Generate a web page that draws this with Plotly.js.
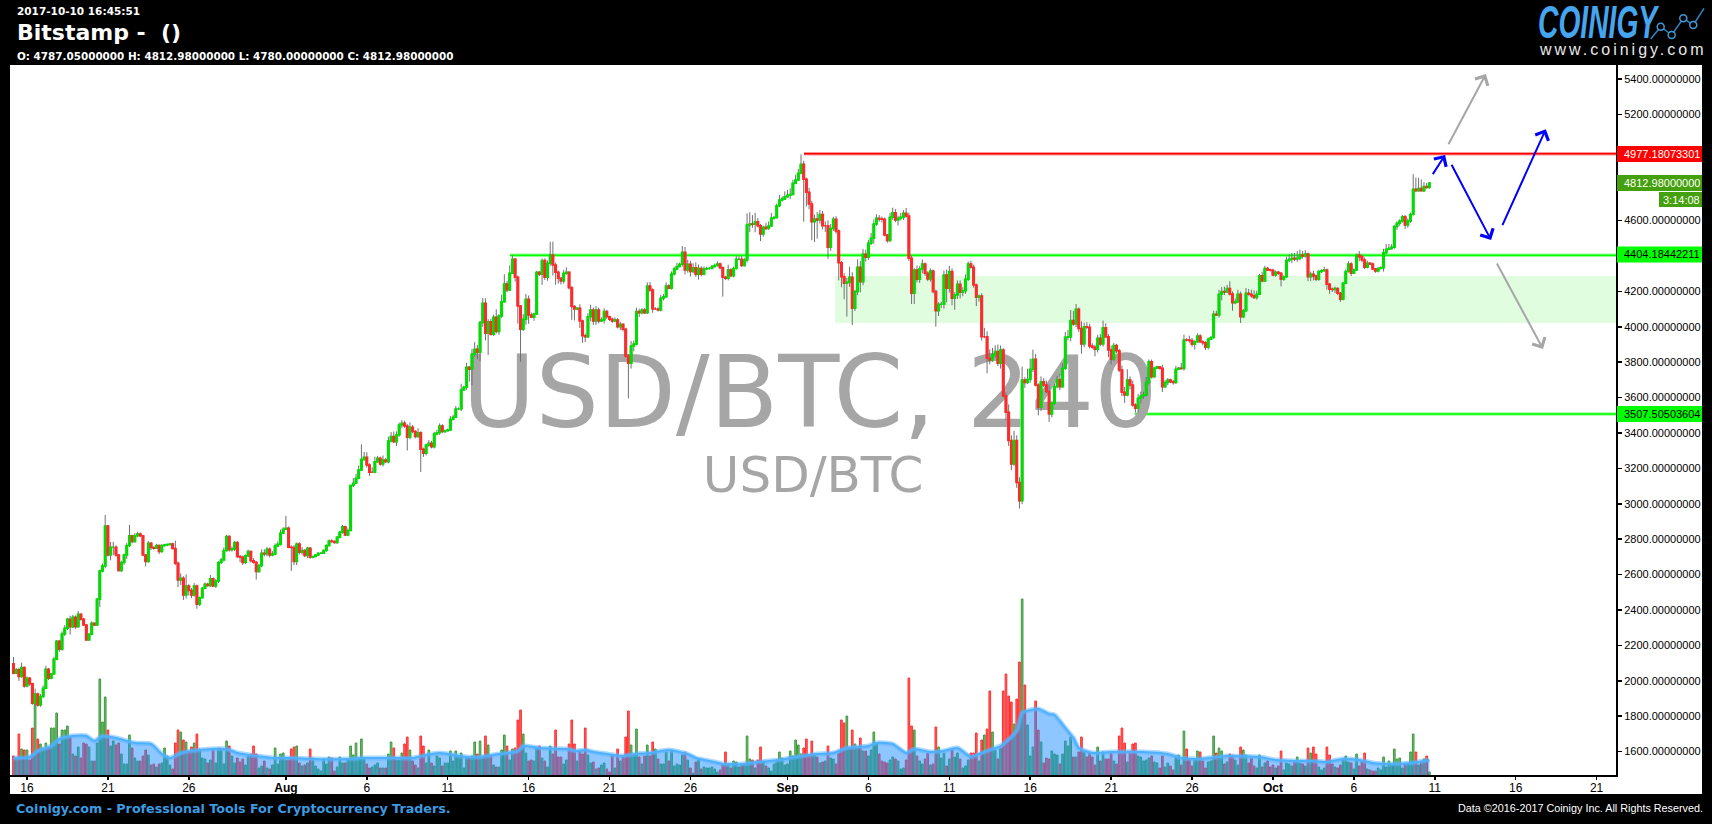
<!DOCTYPE html>
<html><head><meta charset="utf-8">
<style>html,body{margin:0;padding:0;background:#000;overflow:hidden}#chart{width:1712px;height:824px}</style>
<script src="https://cdn.plot.ly/plotly-3.0.1.min.js"></script>
</head><body><div id="chart"></div>
<script>
const firstOpen = 2096;
const closes = [
2043,2062,2024,2075,1971,2015,1983,1873,1926,1864,
1911,1958,2065,2015,2039,2122,2224,2178,2265,2297,
2348,2306,2359,2306,2376,2348,2316,2231,2263,2325,
2316,2461,2621,2649,2875,2711,2755,2755,2711,2623,
2668,2711,2764,2819,2787,2819,2830,2819,2711,2674,
2777,2753,2749,2764,2730,2764,2768,2770,2773,2747,
2664,2570,2579,2485,2536,2510,2485,2536,2433,2470,
2523,2546,2538,2576,2536,2564,2668,2683,2736,2815,
2740,2745,2781,2702,2698,2668,2706,2730,2679,2670,
2617,2651,2721,2717,2743,2711,2717,2762,2772,2834,
2856,2862,2755,2753,2674,2773,2726,2736,2708,2749,
2698,2702,2711,2721,2721,2736,2764,2790,2787,2781,
2811,2839,2871,2824,2849,3103,3116,3144,3191,3251,
3263,3219,3178,3178,3238,3257,3225,3248,3238,3355,
3380,3351,3389,3445,3455,3440,3376,3432,3408,3380,
3402,3308,3285,3332,3342,3323,3395,3402,3440,3408,
3413,3417,3477,3489,3536,3536,3643,3658,3771,3760,
3845,3873,3856,4025,4133,3963,4029,3958,4054,3973,
4061,4142,4242,4208,4302,4381,4280,4118,3986,4042,
4155,4067,4054,4072,4308,4297,4374,4280,4359,4406,
4349,4308,4274,4259,4302,4308,4221,4114,4101,4105,
4033,3950,3944,4057,4095,4033,4095,4033,4039,4086,
4057,4042,4033,4039,4001,4014,3986,3835,3794,3892,
3903,4086,4080,4095,4080,4231,4208,4101,4101,4095,
4161,4170,4231,4218,4298,4327,4340,4353,4421,4321,
4353,4312,4334,4297,4330,4297,4327,4330,4330,4340,
4347,4355,4334,4280,4274,4321,4289,4330,4381,4381,
4346,4378,4575,4581,4579,4594,4571,4524,4562,4556,
4570,4613,4617,4684,4716,4722,4735,4743,4747,4811,
4829,4867,4918,4833,4760,4694,4594,4609,4603,4635,
4571,4571,4449,4556,4607,4541,4362,4283,4246,4251,
4280,4105,4199,4336,4255,4410,4393,4472,4500,4581,
4613,4609,4607,4519,4487,4619,4645,4603,4613,4619,
4641,4626,4387,4189,4321,4268,4327,4355,4302,4270,
4315,4199,4091,4127,4127,4293,4218,4312,4161,4180,
4240,4195,4204,4268,4355,4336,4236,4167,4174,3944,
3944,3822,3813,3841,3860,3794,3869,3609,3517,3357,
3225,3357,3120,3018,3700,3685,3703,3760,3816,3671,
3545,3690,3671,3634,3508,3568,3662,3703,3662,3766,
3941,3943,4035,4016,4099,3991,3903,4001,3997,3892,
3884,3873,3935,3903,3995,3944,3869,3818,3894,3865,
3756,3630,3615,3700,3671,3558,3540,3596,3609,3615,
3686,3803,3718,3766,3775,3766,3662,3685,3700,3690,
3685,3760,3766,3765,3926,3925,3922,3901,3916,3948,
3916,3910,3884,3929,3939,4071,4067,4184,4199,4197,
4217,4185,4136,4142,4184,4057,4091,4189,4184,4176,
4165,4184,4289,4259,4330,4321,4320,4293,4308,4302,
4268,4283,4374,4381,4387,4383,4387,4406,4400,4411,
4283,4297,4287,4268,4312,4317,4321,4240,4212,4211,
4217,4189,4155,4246,4312,4355,4302,4321,4406,4396,
4377,4336,4359,4355,4327,4315,4330,4334,4419,4438,
4443,4449,4566,4585,4598,4622,4575,4598,4635,4777,
4769,4782,4769,4792,4787.05,4812.98];
const wickUp = [
38,10,12,28,6,10,6,6,30,8,
14,16,20,8,6,14,6,6,14,18,
8,20,14,10,18,6,8,4,6,12,
4,8,8,14,62,6,30,30,10,4,
10,8,14,62,6,16,12,8,6,4,
12,8,6,10,6,8,6,6,6,8,
45,10,28,12,65,10,14,16,8,6,
8,10,8,22,8,10,8,12,18,10,
8,14,10,8,10,10,8,12,6,14,
6,8,22,22,14,10,16,14,16,20,
12,70,10,10,14,8,10,20,8,8,
8,4,4,4,4,6,6,8,10,6,
8,8,10,6,12,6,30,25,25,85,
30,28,10,28,28,14,10,25,10,25,
25,28,20,14,18,14,10,28,14,8,
25,8,10,8,18,14,12,16,14,10,
6,8,18,14,16,8,35,10,25,8,
30,40,25,8,30,28,14,16,14,45,
10,40,55,16,45,22,8,10,4,30,
30,22,14,8,8,6,12,12,15,75,
75,14,10,6,20,28,4,10,8,6,
22,8,12,20,30,14,22,14,14,18,
10,6,10,14,10,14,4,8,10,28,
20,22,16,10,10,20,22,10,10,10,
20,15,20,10,15,10,22,10,35,30,
25,20,25,30,22,12,14,10,8,10,
10,14,8,8,8,30,10,10,20,18,
20,10,66,66,50,50,20,10,10,25,
25,30,10,12,30,15,30,30,35,20,
30,25,56,20,10,25,18,25,40,25,
20,25,30,25,15,18,10,10,20,25,
60,28,10,45,35,30,25,20,30,25,
22,18,14,10,5,25,28,20,15,25,
18,30,18,15,10,25,15,25,8,12,
15,8,10,12,15,25,30,32,18,15,
22,22,20,28,14,18,15,8,8,15,
50,30,50,40,35,40,25,10,20,45,
30,55,30,30,75,15,60,60,55,30,
10,30,20,25,40,10,15,20,30,28,
30,40,60,55,30,10,40,22,25,20,
15,14,20,25,40,25,15,25,15,10,
10,25,30,60,20,25,10,25,25,18,
30,12,12,8,5,4,20,15,10,8,
10,20,8,30,30,10,25,15,8,15,
10,8,8,10,8,20,20,25,25,28,
20,40,15,18,25,15,10,30,25,25,
30,20,10,22,15,8,8,8,10,8,
8,8,22,28,30,30,40,30,22,22,
8,15,20,8,10,8,18,8,8,10,
10,5,8,8,12,15,10,8,8,22,
12,15,14,8,8,6,6,8,22,30,
25,18,10,10,10,10,10,14,10,85,
66,60,50,25,20,0];
const wickDown = [
6,4,24,6,10,8,12,8,12,10,
10,8,6,10,6,4,6,14,8,12,
10,45,8,12,6,8,6,4,4,6,
4,6,45,8,14,8,30,45,10,6,
8,12,22,8,10,8,6,6,6,28,
6,14,8,4,14,6,6,8,6,4,
10,40,28,28,20,28,18,10,26,10,
6,6,6,8,6,10,12,8,8,6,
10,10,12,8,28,14,8,8,10,8,
45,6,10,14,14,14,8,8,6,8,
6,4,6,132,20,20,12,14,10,14,
8,6,4,4,6,4,8,6,6,6,
8,6,8,6,6,4,8,4,6,4,
8,14,20,4,6,6,10,14,4,10,
8,8,25,10,16,10,75,12,10,10,
8,128,20,12,10,10,10,8,12,8,
8,4,6,4,4,6,12,6,14,70,
90,14,40,50,25,40,122,8,10,10,
18,12,6,12,6,4,25,100,183,10,
30,50,6,20,6,10,60,15,20,15,
60,70,30,20,15,8,10,75,65,8,
40,40,30,8,25,22,22,14,6,20,
12,10,12,4,10,20,12,10,198,30,
30,8,25,10,8,8,10,22,6,8,
8,12,8,6,8,8,8,4,12,25,
15,28,10,15,30,12,6,6,8,4,
6,6,8,110,10,12,8,10,6,6,
8,6,15,40,20,45,10,40,15,8,
8,6,8,6,8,8,4,6,20,4,
6,6,6,239,80,30,105,115,105,20,
20,35,65,20,15,15,100,60,90,188,
25,95,15,20,60,20,25,15,10,30,
10,15,18,8,12,8,15,12,30,12,
15,10,15,60,60,18,20,25,15,12,
15,10,90,30,22,25,80,25,40,65,
22,35,22,18,10,8,15,50,25,22,
8,85,25,10,15,15,30,8,45,30,
35,10,30,45,20,30,8,20,15,8,
45,20,12,10,45,20,10,8,20,5,
10,15,25,10,18,20,55,18,10,14,
8,40,18,12,15,8,40,30,12,15,
12,22,45,8,25,10,25,25,30,15,
8,12,10,5,4,8,30,8,15,8,
12,8,5,8,12,8,12,14,30,6,
8,15,15,12,6,5,5,15,35,18,
6,8,45,8,8,35,8,8,8,12,
8,12,5,8,5,6,8,8,10,8,
40,8,8,8,20,12,15,12,14,10,
25,25,25,10,8,8,6,30,25,15,
20,10,14,6,6,6,15,4,6,25,
12,10,6,6,5,10,8,5,22,10,
5,8,8,18,14,10,22,15,10,5,
6,5,5,8,6,7.05];
const volumes = [
19,16,41,26,25,25,15,47,81,36,
31,27,32,27,47,47,62,31,45,45,
49,38,21,19,28,17,32,31,28,14,
14,32,96,53,78,45,29,34,30,32,
21,11,11,40,27,17,14,14,19,25,
20,10,11,8,11,12,27,19,10,6,
32,45,43,35,33,23,28,32,41,26,
17,16,12,15,26,12,27,26,11,34,
29,19,12,17,13,16,10,19,21,29,
21,7,9,14,7,6,10,27,11,21,
22,15,15,26,28,29,12,9,10,12,
26,17,9,6,4,16,11,18,17,4,
8,18,12,12,15,29,20,32,17,36,
17,11,7,8,10,12,7,7,7,21,
33,27,15,15,22,31,38,25,14,10,
7,39,29,12,25,12,9,19,17,9,
12,12,24,14,24,18,22,7,18,17,
19,33,21,34,18,39,30,19,10,8,
8,25,40,29,15,26,27,55,65,41,
22,14,15,14,27,29,17,14,8,29,
21,45,18,18,11,15,31,55,31,14,
24,21,47,20,12,13,6,7,10,12,
6,3,19,7,26,14,18,38,64,30,
21,46,18,11,19,30,19,33,26,16,
11,11,23,14,25,9,11,10,20,23,
15,7,2,13,15,6,8,7,7,8,
6,3,5,11,23,11,7,14,13,8,
10,11,39,16,15,7,15,28,14,9,
7,4,11,15,23,17,10,11,24,19,
35,30,21,27,36,19,34,21,18,12,
13,14,29,17,16,11,22,55,52,59,
27,45,31,28,37,24,24,19,25,43,
31,21,14,13,12,15,18,16,14,6,
7,15,97,49,45,19,14,11,16,22,
10,11,48,28,17,22,9,16,25,18,
22,16,7,9,15,22,22,42,14,35,
40,46,84,43,25,16,27,84,101,79,
73,51,76,113,176,90,50,19,28,74,
45,33,12,17,16,24,21,20,11,21,
34,29,38,18,18,23,38,23,18,22,
18,10,28,14,23,16,16,22,14,11,
39,47,32,13,23,31,32,19,18,14,
15,17,19,13,12,7,19,8,12,9,
5,19,20,10,44,26,15,9,15,24,
23,14,7,13,14,39,22,27,24,11,
13,21,20,15,10,28,25,20,12,17,
9,7,20,8,12,14,8,10,7,9,
24,5,12,11,9,13,18,12,11,9,
27,22,28,21,8,5,7,28,20,11,
8,7,10,16,19,13,12,6,21,9,
14,22,6,5,4,4,7,5,18,8,
14,11,26,16,17,7,11,11,23,41,
23,10,13,16,19,3];
const volMaIndex = [0,6,9,14,17,22,27,30,33,38,45,51,55,58,62,69,79,83,90,96,104,111,124,129,135,140,148,153,158,168,173,180,187,189,195,205,209,212,215,220,225,231,236,243,250,253,260,263,271,276,284,290,298,304,309,317,320,326,331,334,340,345,350,355,358,363,366,372,374,380,384,386,390,393,395,400,407,419,428,433,440,450,462,468,475,482,487,493,499,504,511,518,525];
const volMaValues = [17,18,24,29,36,39,39,34,39,37,32,31,21,17,22,25,26,22,19,17,17,16,16,17,17,17,17,20,22,18,18,21,24,29,27,26,24,25,23,21,19,21,22,25,21,17,13,11,11,13,15,18,21,22,27,29,32,31,22,26,23,24,27,18,21,26,29,44,62,66,61,60,47,37,27,22,23,23,21,17,16,19,18,15,14,14,13,16,15,12,11,12,15];
const priceTicks = [5400,5200,4600,4200,4000,3800,3600,3400,3200,3000,2800,2600,2400,2200,2000,1800,1600];
const dateTicks = ['2017-07-16','2017-07-21','2017-07-26','2017-08-01','2017-08-06','2017-08-11','2017-08-16','2017-08-21','2017-08-26','2017-09-01','2017-09-06','2017-09-11','2017-09-16','2017-09-21','2017-09-26','2017-10-01','2017-10-06','2017-10-11','2017-10-16','2017-10-21'];
const dateTickText = ['16','21','26','<b>Aug</b>','6','11','16','21','26','<b>Sep</b>','6','11','16','21','26','<b>Oct</b>','6','11','16','21'];
const levelRed = 4977.18073301, levelGreenHigh = 4404.18442211, levelGreenLow = 3507.50503604, lastPrice = 4812.98;
const zoneTop = 4287, zoneBottom = 4022;
// arrows as [fromDay, fromPrice, toDay, toPrice, colour]; day 0 is 16 July
const arrows = [
 [87.8,5023,90.16,5428,'#a6a6a6'],
 [86.82,4854,87.64,4971,'#0000ff'],
 [87.99,4924,90.48,4490,'#0000ff'],
 [91.14,4566,93.86,5116,'#0000ff'],
 [90.79,4366,93.69,3875,'#a6a6a6']];

const W=1712,H=824,PL=10,PR=1616,PT=65,PB=775;
const px=x=>(x-PL)/(PR-PL), py=y=>(PB-y)/(PB-PT);
const dayDate=d=>new Date(Date.UTC(2017,6,16)+d*864e5).toISOString();
const candleDay=i=>-5/6+i/6;
const xs=closes.map((_,i)=>dayDate(candleDay(i)));
const opens=closes.map((c,i)=>i?closes[i-1]:firstOpen);
const bodyHi=closes.map((c,i)=>Math.max(c,opens[i])), bodyLo=closes.map((c,i)=>Math.min(c,opens[i]));
const highs=bodyHi.map((v,i)=>v+wickUp[i]), lows=bodyLo.map((v,i)=>v-wickDown[i]);
const isUp=closes.map((c,i)=>c>=opens[i]);
const yRange=[1468,5479];
const FONT='"DejaVu Sans",sans-serif', ARIAL='"Liberation Sans",Arial,sans-serif';

const traces=[
 {type:'scatter',mode:'text',x:[dayDate(48.39),dayDate(48.58)],y:[3575,3135],text:['USD/BTC, 240','USD/BTC'],
  textfont:{family:FONT,color:'#a6a6a6',size:[100,50]},textposition:'middle center',hoverinfo:'skip',showlegend:false,cliponaxis:false,yaxis:'y'},
 {type:'bar',x:xs,y:volumes,yaxis:'y2',width:14400000*0.62,hoverinfo:'skip',showlegend:false,
  marker:{color:isUp.map(u=>u?'rgba(40,150,40,0.65)':'rgba(255,30,30,0.7)'),line:{color:isUp.map(u=>u?'#3f9a3f':'#ff3030'),width:1}}},
 {type:'scatter',mode:'lines',x:volMaIndex.map(i=>dayDate(candleDay(i))),y:volMaValues,yaxis:'y2',fill:'tozeroy',fillcolor:'rgba(30,144,255,0.5)',
  line:{color:'rgba(90,180,255,0.5)',width:5,shape:'spline',smoothing:0.6},hoverinfo:'skip',showlegend:false},
 {type:'scatter',mode:'lines',x:volMaIndex.map(i=>dayDate(candleDay(i))),y:volMaValues,yaxis:'y2',
  line:{color:'#4fb0ff',width:2,shape:'spline',smoothing:0.6},hoverinfo:'skip',showlegend:false},
 {type:'candlestick',x:xs,open:opens,high:highs,low:lows,close:closes,yaxis:'y3',whiskerwidth:0,hoverinfo:'skip',showlegend:false,
  increasing:{line:{color:'#707070',width:1},fillcolor:'#707070'},decreasing:{line:{color:'#707070',width:1},fillcolor:'#707070'}},
 {type:'candlestick',x:xs,open:opens,high:bodyHi,low:bodyLo,close:closes,yaxis:'y3',whiskerwidth:0,hoverinfo:'skip',showlegend:false,
  increasing:{line:{color:'#00dd00',width:1.5},fillcolor:'#00dd00'},decreasing:{line:{color:'#ff2a2a',width:1.5},fillcolor:'#ff3030'}}
];

function hline(x0,y,c){return [
 {type:'line',layer:'below',xref:'x',yref:'y',x0:x0,x1:dayDate(98.2),y0:y,y1:y,line:{color:c,width:3.5},opacity:0.4},
 {type:'line',layer:'below',xref:'x',yref:'y',x0:x0,x1:dayDate(98.2),y0:y,y1:y,line:{color:c,width:1.5}}];}
function tag(y,c,x0){return {type:'rect',layer:'above',xref:'paper',yref:'paper',x0:px(x0||PR+1),x1:px(1702),y0:py(y-8),y1:py(y+8),fillcolor:c,line:{width:0}};}
const logoPts=[[1650.7,39],[1660.7,26.7],[1671.7,35],[1683.3,18.3],[1693.3,25],[1704,8.3]];
const shapes=[
 {type:'rect',layer:'below',xref:'paper',yref:'paper',x0:0,x1:px(1702),y0:py(794),y1:1,fillcolor:'#fff',line:{width:0}},
 {type:'rect',layer:'below',xref:'x',yref:'y',x0:dayDate(49.94),x1:dayDate(98.2),y0:zoneBottom,y1:zoneTop,fillcolor:'#e0fde0',line:{width:0}},
 ...hline(dayDate(48.02),levelRed,'#ff0000'),
 ...hline(dayDate(29.85),levelGreenHigh,'#00ff00'),
 ...hline(dayDate(68.48),levelGreenLow,'#00ff00'),
 tag(154,'#ff0000'),tag(183,'#44a00c'),tag(254.5,'#00ff00'),tag(414,'#00ff00'),
 {type:'rect',layer:'above',xref:'paper',yref:'paper',x0:px(1659),x1:px(1702),y0:py(192),y1:py(207),fillcolor:'#44a00c',line:{width:0}},
 {type:'path',layer:'above',xref:'paper',yref:'paper',path:'M'+logoPts.map(p=>px(p[0])+','+py(p[1])).join('L'),line:{color:'#2f86c8',width:1.5}},
 ...logoPts.slice(1,5).map(p=>({type:'circle',layer:'above',xref:'paper',yref:'paper',x0:px(p[0]-3.5),x1:px(p[0]+3.5),y0:py(p[1]+3.5),y1:py(p[1]-3.5),fillcolor:'#000',line:{color:'#3f9ad8',width:1.5}}))
];
function label(text,x,y,size,color,family,anchor){return {text:text,xref:'paper',yref:'paper',x:px(x),y:py(y),xanchor:anchor||'left',yanchor:'middle',showarrow:false,font:{size:size,color:color,family:family||FONT},borderpad:0};}
const annotations=[
 label('<b>2017-10-10 16:45:51</b>',16,11,10.5,'#fff'),
 label('<b>Bitstamp -  ()</b>',16,32,22,'#fff'),
 label('<b>O: 4787.05000000 H: 4812.98000000 L: 4780.00000000 C: 4812.98000000</b>',16,56,10.4,'#fff'),
 label('<b><i>COINIGY</i></b>',1537,21,30,'#45a5ee',ARIAL),
 label('www.coinigy.com',1538,49,16,'#e8e8e8',ARIAL),
 label('<b>Coinigy.com - Professional Tools For Cryptocurrency Traders.</b>',15,808,12.7,'#3d9be0'),
 label('Data ©2016-2017 Coinigy Inc. All Rights Reserved.',1704,808,10.8,'#fff',ARIAL,'right'),
 label('4977.18073301',1623,154,11,'#fff',ARIAL),
 label('4812.98000000',1623,183,11,'#fff',ARIAL),
 label('3:14:08',1662,200,11,'#fff',ARIAL),
 label('4404.18442211',1623,254.5,11,'#000',ARIAL),
 label('3507.50503604',1623,414,11,'#000',ARIAL),
 ...arrows.map(a=>({xref:'x',yref:'y',axref:'x',ayref:'y',x:dayDate(a[2]),y:a[3],ax:dayDate(a[0]),ay:a[1],text:'',showarrow:true,arrowhead:4,arrowsize:1.4,arrowwidth:2,arrowcolor:a[4]}))
];
const layout={
 width:W,height:H,paper_bgcolor:'#000',plot_bgcolor:'rgba(0,0,0,0)',showlegend:false,boxgap:0.2,barmode:'overlay',dragmode:false,hovermode:false,
 margin:{l:PL,r:W-PR,t:PT,b:H-PB,pad:0},
 xaxis:{type:'date',range:[dayDate(-1.05),dayDate(98.2)],rangeslider:{visible:false},tickmode:'array',tickvals:dateTicks,ticktext:dateTickText,ticks:'outside',ticklen:3,tickwidth:1.5,tickcolor:'#000',ticklabelstandoff:-2,showline:true,linecolor:'#000',linewidth:2,showgrid:false,zeroline:false,tickfont:{family:ARIAL,size:12,color:'#000'}},
 yaxis:{range:yRange,side:'right',tickmode:'array',tickvals:priceTicks,tickformat:'.8f',ticks:'outside',ticklen:4,tickwidth:1.5,tickcolor:'#000',showline:true,linecolor:'#000',linewidth:2,showgrid:false,zeroline:false,tickfont:{family:ARIAL,size:11,color:'#000'}},
 yaxis2:{overlaying:'y',range:[0,710],visible:false,showgrid:false,zeroline:false},
 yaxis3:{overlaying:'y',range:yRange,visible:false,showgrid:false,zeroline:false},
 shapes:shapes,annotations:annotations
};
Plotly.newPlot('chart',traces,layout,{displayModeBar:false,staticPlot:true}).then(gd=>{
 [...gd.querySelectorAll('.annotation-text')].forEach(t=>{
  const s=t.textContent;
  if(s==='COINIGY'){const b=t.getBBox();const sx=122/b.width,sy=1.55;const cx=b.x,cy=b.y+b.height/2;t.setAttribute('transform','translate('+(cx*(1-sx))+','+(cy*(1-sy))+') scale('+sx+','+sy+')');}
  if(s==='www.coinigy.com'){const w0=t.getBBox().width;t.style.letterSpacing='3px';const w1=t.getBBox().width;t.setAttribute('transform','translate('+((w1-w0)/2)+',0)');}
 });
});
</script></body></html>
